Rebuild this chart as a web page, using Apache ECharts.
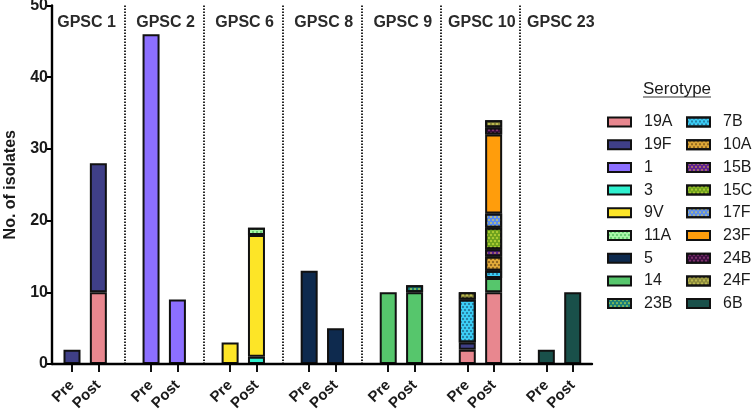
<!DOCTYPE html>
<html><head><meta charset="utf-8">
<script src="https://cdn.jsdelivr.net/npm/echarts@6/dist/echarts.min.js"></script>
<style>html,body{margin:0;padding:0;background:#fff}#c{width:752px;height:412px}</style>
</head><body><div id="c"></div>
<script>
// ---- data ----
const groups = ['GPSC 1','GPSC 2','GPSC 6','GPSC 8','GPSC 9','GPSC 10','GPSC 23'];
const periods = ['Pre','Post'];
const serotypes = ['19A','19F','1','3','9V','11A','5','14','23B','7B','10A','15B','15C','17F','23F','24B','24F','6B'];
// counts per serotype (rows) per GPSC group (columns)
const preCounts = [
  [0,0,0,0,0,2,0],   // 19A
  [2,0,0,0,0,1,0],   // 19F
  [0,46,0,0,0,0,0],  // 1
  [0,0,0,0,0,0,0],   // 3
  [0,0,3,0,0,0,0],   // 9V
  [0,0,0,0,0,0,0],   // 11A
  [0,0,0,13,0,0,0],  // 5
  [0,0,0,0,10,0,0],  // 14
  [0,0,0,0,0,0,0],   // 23B
  [0,0,0,0,0,6,0],   // 7B
  [0,0,0,0,0,0,0],   // 10A
  [0,0,0,0,0,0,0],   // 15B
  [0,0,0,0,0,0,0],   // 15C
  [0,0,0,0,0,0,0],   // 17F
  [0,0,0,0,0,0,0],   // 23F
  [0,0,0,0,0,0,0],   // 24B
  [0,0,0,0,0,1,0],   // 24F
  [0,0,0,0,0,0,2]    // 6B
];
const postCounts = [
  [10,0,0,0,0,10,0], // 19A
  [18,0,0,0,0,0,0],  // 19F
  [0,9,0,0,0,0,0],   // 1
  [0,0,1,0,0,0,0],   // 3
  [0,0,17,0,0,0,0],  // 9V
  [0,0,1,0,0,0,0],   // 11A
  [0,0,0,5,0,0,0],   // 5
  [0,0,0,0,10,2,0],  // 14
  [0,0,0,0,1,0,0],   // 23B
  [0,0,0,0,0,1,0],   // 7B
  [0,0,0,0,0,2,0],   // 10A
  [0,0,0,0,0,1,0],   // 15B
  [0,0,0,0,0,3,0],   // 15C
  [0,0,0,0,0,2,0],   // 17F
  [0,0,0,0,0,11,0],  // 23F
  [0,0,0,0,0,1,0],   // 24B
  [0,0,0,0,0,1,0],   // 24F
  [0,0,0,0,0,0,10]   // 6B
];
const yTicks = [0,10,20,30,40,50];

// ---- styles ----
const fills = {
  '19A':'#E8878F','19F':'#3F3F87','1':'#8C6FFF','3':'#2FF0CF','9V':'#FDE527','11A':'#A8F5A8',
  '5':'#0E2A4E','14':'#56C66C','23B':'#1A7F7A','7B':'#3CCDF5','10A':'#DFA838','15B':'#5E2090',
  '15C':'#6FA21E','17F':'#5A8CF0','23F':'#FF9D0C','24B':'#3A0E3E','24F':'#8C8A3C','6B':'#19504A'
};
const dots = {
  '11A':'#3DB050','23B':'#C8E040','7B':'#1A4A6A','10A':'#5A3A10','15B':'#D8A050',
  '15C':'#D8E840','17F':'#E8D840','24B':'#B05090','24F':'#E0E060'
};
const FONT = '"Liberation Sans", Arial, sans-serif';
const INK = '#1a1a1a';
const LINE = '#111';
const AXIS = '#000';

// ---- build ----
const cats = [];
groups.forEach((g, gi) => {
  periods.forEach(p => cats.push(g + '|' + p));
  if (gi < groups.length - 1) cats.push('sep' + gi);
});
const isSep = v => v.indexOf('sep') === 0;

const series = serotypes.map((s, si) => {
  const data = cats.map(() => '-');
  groups.forEach((g, gi) => {
    const a = preCounts[si][gi], b = postCounts[si][gi];
    data[cats.indexOf(g + '|Pre')] = a ? a : '-';
    data[cats.indexOf(g + '|Post')] = b ? b : '-';
  });
  const itemStyle = {color: fills[s], borderColor: LINE, borderWidth: 2};
  if (dots[s]) {
    itemStyle.decal = {
      symbol: 'rect', symbolSize: 0.75, color: dots[s],
      dashArrayX: [[2, 2], [0, 2, 2, 0]], dashArrayY: [2, 0.6]
    };
  }
  return {
    name: s, type: 'bar', stack: 'all', xAxisIndex: 1, yAxisIndex: 1,
    barWidth: 17, clip: false, itemStyle, data, emphasis: {disabled: true}
  };
});

const legendCommon = {
  orient: 'vertical', padding: 0, itemGap: 6.7, itemWidth: 23, itemHeight: 9,
  icon: 'rect', selectedMode: false,
  textStyle: {fontSize: 16, color: INK, fontFamily: FONT, padding: [0, 0, 0, 8]}
};

const option = {
  animation: false,
  textStyle: {fontFamily: FONT},
  title: {
    text: 'Serotype', left: 643, top: 81, padding: 0,
    textStyle: {fontSize: 17, fontWeight: 'normal', color: INK, fontFamily: FONT}
  },
  graphic: [{type: 'line', shape: {x1: 643, y1: 97, x2: 711, y2: 97}, style: {stroke: '#333', lineWidth: 1}}],
  legend: [
    Object.assign({data: serotypes.slice(0, 9), left: 607, top: 114}, legendCommon),
    Object.assign({data: serotypes.slice(9), left: 686, top: 114}, legendCommon)
  ],
  grid: [
    {left: 52, top: 5.5, width: 540, height: 358.5, outerBoundsMode: 'none', containLabel: false},
    {left: 72, top: 5.5, width: 500.7, height: 358.5, outerBoundsMode: 'none', containLabel: false},
    {left: 47, top: 5.5, width: 553.4, height: 358.5, outerBoundsMode: 'none', containLabel: false}
  ],
  xAxis: [
    {type: 'value', gridIndex: 0, min: 0, max: 1, z: 10,
     axisLine: {show: true, lineStyle: {color: AXIS, width: 2.4}},
     axisTick: {show: false}, axisLabel: {show: false}, splitLine: {show: false}},
    {type: 'category', gridIndex: 1, data: cats, boundaryGap: false,
     axisLine: {show: false},
     axisTick: {show: true, length: 8, interval: (i, v) => !isSep(v), lineStyle: {color: LINE, width: 2}},
     axisLabel: {interval: 0, rotate: 45, margin: 19, fontSize: 15, fontWeight: 'bold', color: INK,
                 formatter: v => isSep(v) ? '' : v.split('|')[1]},
     splitLine: {show: true, interval: (i, v) => isSep(v), lineStyle: {color: LINE, width: 1.8, type: [1.5, 1.5]}}},
    {type: 'category', gridIndex: 2, data: groups, position: 'top',
     axisLine: {show: false}, axisTick: {show: false}, splitLine: {show: false},
     axisLabel: {inside: true, margin: 9, fontSize: 16, fontWeight: 'bold', color: '#2a2a2a', interval: 0}}
  ],
  yAxis: [
    {type: 'value', gridIndex: 0, min: yTicks[0], max: yTicks[yTicks.length - 1], interval: yTicks[1] - yTicks[0], z: 10,
     name: 'No. of isolates', nameLocation: 'middle', nameGap: 33,
     nameTextStyle: {fontSize: 16, fontWeight: 'bold', color: INK},
     axisLine: {show: true, lineStyle: {color: AXIS, width: 2.4}},
     axisTick: {show: true, length: 7, lineStyle: {color: AXIS, width: 2}},
     axisLabel: {fontSize: 16, fontWeight: 'bold', color: INK, margin: 4},
     splitLine: {show: false}},
    {type: 'value', gridIndex: 1, min: yTicks[0], max: yTicks[yTicks.length - 1], show: false, splitLine: {show: false}},
    {type: 'value', gridIndex: 2, min: 0, max: 1, show: false, splitLine: {show: false}}
  ],
  series
};

const chart = echarts.init(document.getElementById('c'), null, {renderer: 'canvas'});
chart.setOption(option);
</script>
</body></html>
